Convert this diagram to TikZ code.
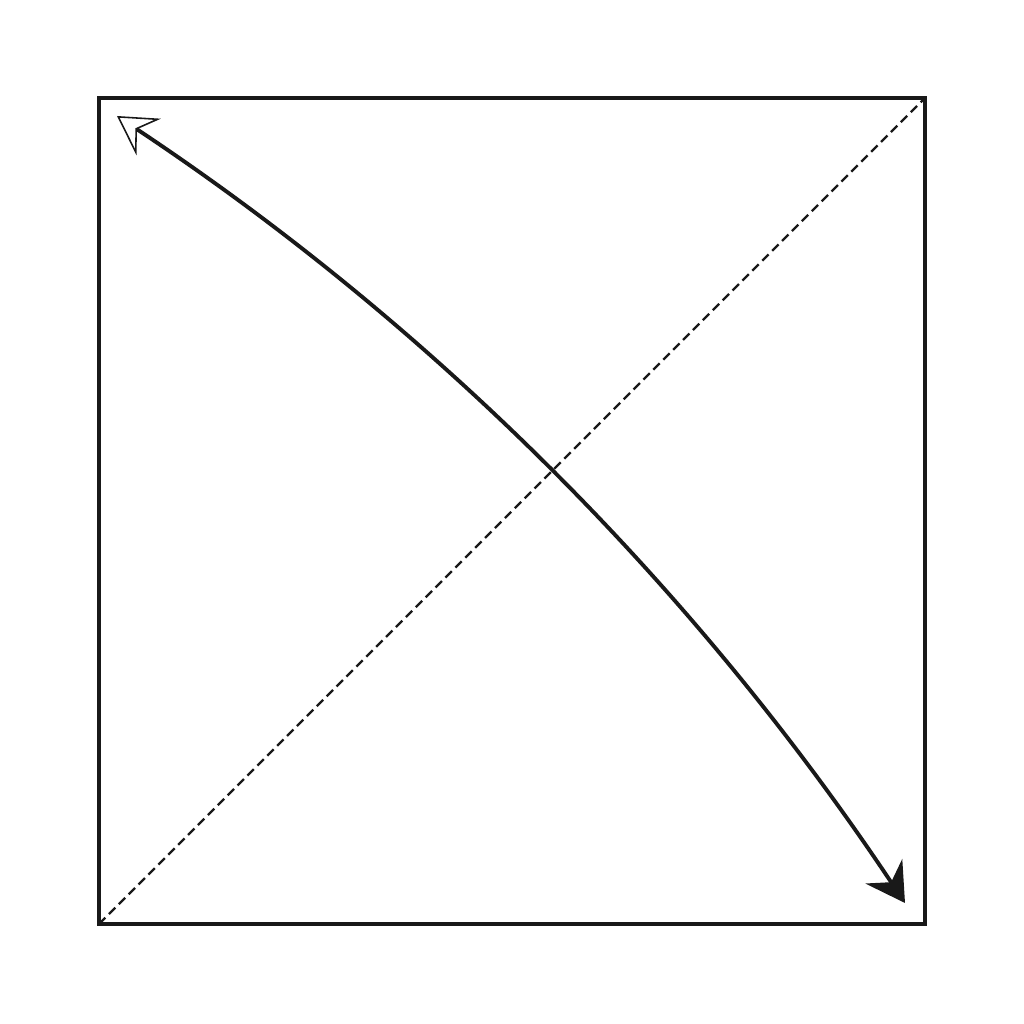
\documentclass[tikz,border=0pt]{standalone}
\usetikzlibrary{arrows.meta}
\begin{document}
\begin{tikzpicture}[
  frame/.style={line width=1.0pt, draw=black!90},
  diag/.style={line width=0.7pt, dash pattern=on 0.09cm off 0.05cm, draw=black!90},
  curvearrow/.style={line width=1.1pt, draw=black!90,
    {Stealth[length=0.38cm,width=0.44cm,inset=0.14cm,open,fill=white,line width=0.45pt]}-{Stealth[length=0.38cm,width=0.44cm,inset=0.13cm]}}
]
\useasboundingbox (0,0) rectangle (10.24,10.24);
\coordinate (bl) at (0.99,1.00);
\coordinate (tr) at (9.25,9.26);
\coordinate (s) at (1.17,9.08);
\coordinate (e) at (9.05,1.21);
\draw[frame] (bl) rectangle (tr);
\draw[diag] (bl) -- (tr);
\draw[curvearrow] (s) .. controls (4.33,6.98) and (6.95,4.36) .. (e);
\end{tikzpicture}
\end{document}
